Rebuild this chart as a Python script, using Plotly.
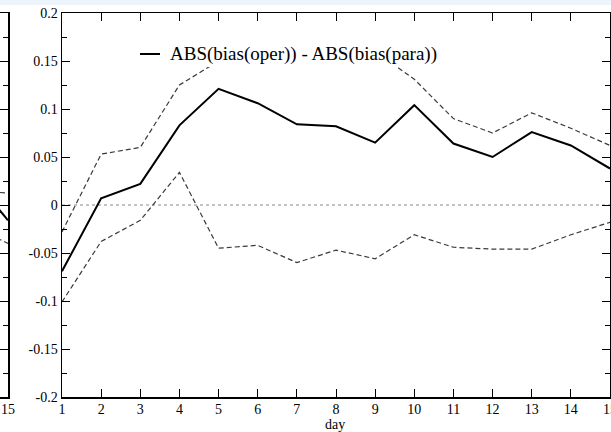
import plotly.graph_objects as go

W, H = 611, 432

days = list(range(1, 16))
diff_mean = [-0.069, 0.007, 0.022, 0.083, 0.121, 0.106, 0.084, 0.082, 0.065, 0.104,
             0.064, 0.050, 0.076, 0.062, 0.038]
diff_upper = [-0.028, 0.053, 0.060, 0.125, 0.150, 0.155, 0.152, 0.155, 0.160, 0.131,
              0.090, 0.075, 0.096, 0.080, 0.062]
diff_lower = [-0.101, -0.038, -0.016, 0.034, -0.045, -0.042, -0.060, -0.047, -0.056, -0.031,
              -0.044, -0.046, -0.046, -0.031, -0.018]

# partially visible neighbouring panel (left edge)
left_days = [14, 15]
left_mean = [0.035, -0.016]
left_upper = [0.015, 0.0125]
left_lower = [-0.02, -0.040]

ytick_vals = [-0.2, -0.15, -0.1, -0.05, 0, 0.05, 0.1, 0.15, 0.2]
ytick_text = ["-0.2", "-0.15", "-0.1", "-0.05", "0", "0.05", "0.1", "0.15", "0.2"]
legend_label = "ABS(bias(oper)) - ABS(bias(para))"
x_title = "day"

FONT = "Liberation Serif"
DASH = dict(color="#3a3a3a", width=1.2, dash="5px,3px")

def px_x(p):
    return p / W

def px_y(p):
    return 1 - p / H

fig = go.Figure()

# main panel
fig.add_trace(go.Scatter(x=[days[0], days[-1]], y=[0, 0], mode="lines",
                         line=dict(color="#888888", width=1, dash="dot"),
                         xaxis="x", yaxis="y", showlegend=False, hoverinfo="skip"))
fig.add_trace(go.Scatter(x=days, y=diff_upper, mode="lines", line=DASH,
                         xaxis="x", yaxis="y", showlegend=False))
fig.add_trace(go.Scatter(x=days, y=diff_lower, mode="lines", line=DASH,
                         xaxis="x", yaxis="y", showlegend=False))
fig.add_trace(go.Scatter(x=days, y=diff_mean, mode="lines",
                         line=dict(color="black", width=2),
                         xaxis="x", yaxis="y", name=legend_label, showlegend=False))

# left partial panel
fig.add_trace(go.Scatter(x=left_days, y=left_upper, mode="lines", line=DASH,
                         xaxis="x2", yaxis="y2", showlegend=False))
fig.add_trace(go.Scatter(x=left_days, y=left_lower, mode="lines", line=DASH,
                         xaxis="x2", yaxis="y2", showlegend=False))
fig.add_trace(go.Scatter(x=left_days, y=left_mean, mode="lines",
                         line=dict(color="black", width=2),
                         xaxis="x2", yaxis="y2", showlegend=False))

ydom = [35 / H, 1 - 13 / H]

axis_common = dict(showline=True, linecolor="black", linewidth=1.5, showgrid=False,
                   zeroline=False, ticks="inside", tickcolor="black", automargin=False,
                   ticklabeloverflow="allow",
                   tickfont=dict(family=FONT, size=14, color="black"))

fig.update_layout(
    width=W, height=H,
    margin=dict(l=0, r=0, t=0, b=0),
    paper_bgcolor="white", plot_bgcolor="white",
    font=dict(family=FONT, color="black"),
    showlegend=False,
    xaxis=dict(domain=[62 / W, 610 / W], range=[1, 15], tickvals=days,
               ticklen=8, mirror="ticks", anchor="y", ticklabelstandoff=-1,
               **axis_common),
    yaxis=dict(domain=ydom, range=[-0.2, 0.2], tickvals=ytick_vals, ticktext=ytick_text,
               ticklen=8, mirror="ticks", anchor="x",
               minor=dict(dtick=0.025, tick0=0, ticks="inside", ticklen=5, tickcolor="black"),
               **axis_common),
    xaxis2=dict(domain=[0, 8 / W], range=[14.8, 15], tickvals=[15], ticktext=["15"],
                ticklen=8, mirror="ticks", anchor="y2", ticklabelstandoff=-1, **axis_common),
    yaxis2=dict(domain=ydom, range=[-0.2, 0.2], tickvals=ytick_vals, showticklabels=False,
                ticklen=8, side="right", anchor="x2",
                minor=dict(dtick=0.025, tick0=0, ticks="inside", ticklen=5, tickcolor="black"),
                **axis_common),
    shapes=[
        dict(type="rect", xref="paper", yref="paper", x0=0, x1=1, y0=px_y(5), y1=1,
             fillcolor="#eef4fb", line=dict(width=0), layer="below"),
        dict(type="rect", xref="paper", yref="paper", x0=px_x(128), x1=px_x(456),
             y0=px_y(67), y1=px_y(35), fillcolor="white", line=dict(width=0), layer="above"),
        dict(type="line", xref="paper", yref="paper", x0=px_x(140), x1=px_x(160),
             y0=px_y(54), y1=px_y(54), line=dict(color="black", width=2), layer="above"),
    ],
    annotations=[
        dict(text=legend_label, xref="paper", yref="paper", x=px_x(168), y=px_y(54),
             xanchor="left", yanchor="middle", showarrow=False,
             font=dict(family=FONT, size=19, color="black")),
        dict(text=x_title, xref="paper", yref="paper", x=px_x(335), y=px_y(424),
             xanchor="center", yanchor="middle", showarrow=False,
             font=dict(family=FONT, size=14, color="black")),
    ],
)

fig.write_html("out.html", config={"staticPlot": True})
